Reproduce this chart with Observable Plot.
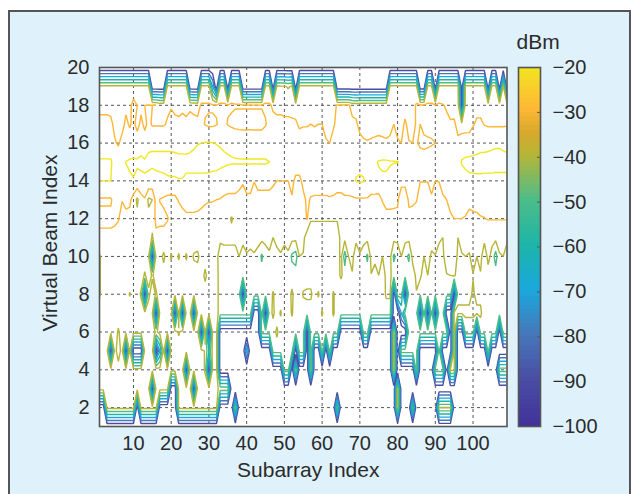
<!DOCTYPE html>
<html><head><meta charset="utf-8">
<script src="https://cdn.jsdelivr.net/npm/d3@7"></script>
<script src="https://cdn.jsdelivr.net/npm/@observablehq/plot@0.6"></script>
<style>
html,body{margin:0;padding:0;background:#fff;width:637px;height:494px;overflow:hidden}
#panel{position:absolute;left:8px;top:10px;width:619px;height:490px;background:#dff2fb;border:2px solid #555;box-sizing:content-box}
#main,#bar{position:absolute;left:0;top:0}
svg{background:transparent!important;font-family:"Liberation Sans",Arial,sans-serif}
</style></head><body>
<div id="panel"></div><div id="main"></div><div id="bar"></div>
<script>
const F=-100;
const row1=[F,F,F,F,F,F,F,F,F,F, F,F,F,F,F,F,F,F,F,F, F,F,F,F,F,F,F,F,F,F, F,F,F,F,F,F,F,F,F,F, F,F,F,F,F,F,F,F,F,F, F,F,F,F,F,F,F,F,F,F, F,F,F,F,F,F,F,F,F,F, F,F,F,F,F,F,F,F,F,F, F,F,F,F,F,F,F,F,F,F, F,F,F,F,F,F,F,F,F,F, F,F,F,F,F,F,F,F,F];
const row2=[F,F,-37,-37,-37,-37,-37,-37,-37,-37, F,-37,-37,-37,-37,-37,F,F,F,F, F,-37,-37,-37,-37,-37,-37,-37,-37,-37, -37,-37,F,F,F,F,-45,F,F,F, F,F,F,F,F,F,F,F,F,F, F,F,F,F,F,F,F,F,F,F, F,F,F,-48,F,F,F,F,F,F, F,F,F,F,F,F,F,F,F,-38, F,F,F,-48,F,F,F,F,F,F, -39.5,-39.5,-39.5,-39.5,F,F,F,F,F,F, F,F,F,F,F,F,F,F,F];
const row3=[-36,-36,-36,-36,-36,-36,-36,-36,-36,-36, -36,-36,-36,-36,F,-36,-36,-36,-36,F, F,-36,-36,-36,-36,F,-36,-36,-36,-36, -36,-36,-45,-45,-45,F,F,F,F,F, F,F,F,F,F,F,F,F,F,F, F,F,F,F,F,F,F,F,F,F, F,F,F,F,F,F,F,F,F,F, F,F,F,F,F,F,F,F,F,-38, F,F,F,F,F,F,F,F,F,F, F,F,F,F,F,F,F,F,F,F, F,F,F,F,F,F,F,F,F];
const row4=[-36,-36,-36,-36,-36,-36,-36,-36,-36,-36, -36,-36,-36,-36,-36,-36,-36,-36,-36,-36, -36,-36,-36,F,-36,-36,-36,-36,-41,F, -36,-36,F,F,F,F,F,F,F,F, F,F,F,F,F,F,F,F,F,-45, -45,F,-45,F,F,F,-45,F,F,F, F,F,F,F,F,F,F,F,F,F, F,F,F,F,F,F,F,F,-38,F, F,F,F,F,-45,F,F,F,F,-45, -45,-45,F,-38,-38,F,F,F,F,F, F,F,F,F,F,F,-45,-45,-45];
const row5=[-36,-36,-36,F,-36,-45,-36,F,-36,F, F,F,-36,-36,-36,F,-70,-36,F,-36, -36,-36,-36,-36,-36,-36,-36,-36,-41,-60, -36,-36,F,F,F,F,F,F,F,-65, F,F,F,F,F,F,-45,-45,-45,-45, -45,-45,F,-45,-45,F,-45,F,F,-45, F,-45,F,F,F,F,F,F,F,F, F,F,F,F,F,F,F,F,-38,F, -45,-45,-45,-45,-45,F,F,F,F,F, -45,F,F,F,-38,F,F,F,F,F, F,F,F,-45,F,F,F,F,F];
const row6=[-36,-36,-36,-36,-36,-41,-36,-36,-36,-36, -36,-36,-36,-36,-36,-42,-36,-36,-36,-36, -36,-41,-36,-36,-36,-36,-36,F,-38,F, -36,-36,F,F,F,F,F,F,F,F, F,F,F,-45,-45,-45,-45,-38,-45,-45, -45,-45,-45,-45,-45,F,-45,-45,-45,-45, -45,-45,-45,-45,F,F,F,F,F,F, -45,-45,F,F,F,F,F,F,-38,F, F,F,-45,-45,-45,-45,-45,-45,-45,-45, -45,-45,-45,F,-38,F,F,-45,-45,-45, F,-45,-45,-45,-45,-45,F,-45,-45];
const row7=[-36,-36,-36,-36,-36,-36,-36,-36,-36,-36, -36,-36,-36,-36,-40,F,-36,-36,-36,-36, F,-36,F,-36,-36,F,-36,-36,-36,-36, -36,-36,-45,-45,-45,-45,-45,-45,-45,-45, -45,F,F,-45,F,-45,-38,-45,-39,-45, -45,-39,-45,-45,-45,-45,-45,-45,-45,-39, -45,-45,-39,-45,-45,-45,-45,-45,-45,-45, -45,-45,-45,-45,-45,-45,-45,-45,F,F, -70,-45,-45,-45,-45,F,-45,F,-45,F, -45,-45,F,F,-38,-38.5,-38.5,-38.5,-38.5,-38.5, -38.5,-38.5,-45,-45,-45,-45,-45,-45,-45];
const row8=[-41,-36,-36,-36,-36,-36,-36,-36,-40.5,-36, -36,-41,F,-42,-36,-41,-36,-36,-36,-36, -36,-36,-36,-36,-36,-36,-36,-36,-36,-36, -36,-36,-45,-45,-45,-45,-45,-45,F,-45, -45,-45,-45,-45,-45,-45,-39,-45,-45,-45, -45,-38,-45,-45,-39,-38,-38,-45,-39,-45, -45,-45,-39,-45,-48,-45,-45,-45,-45,-45, -45,-45,-45,-45,-45,-45,-38.5,-38.5,F,-45, -45,F,-45,-45,-40.5,-48,-45,-45,-45,-45, -45,-45,-45,-45,F,-42,-42,-42,-42,-39, -42,-42,-45,-45,-45,-45,-45,-45,-45];
const row9=[-41,-36,-36,-36,-36,-36,-36,-36,-36,-36, -36,-36,-41,-36,-41,-36,-36,-36,-36,-36, -36,-36,-36,-36,-36,-36,-36,-36,-42,-36, -36,-36,-45,-45,-45,-45,-45,-45,-45,-45, -45,-45,-45,-45,-45,-45,-45,-45,-45,-45, -45,-45,-45,-45,-45,-45,-45,-45,-45,-45, -45,-45,-45,-45,-38,-45,-45,-40.75,-45,-45, -45,-45,-40.3,-44.5,-40,-45,-38,-38,-45,-45, -45,-45,-45,-44.5,-38,-38,-45,-40,-45,-45, -45,-45,-40.3,-40,-38,-45,-45,-45,-45,-40.3, -45,-40.75,-45,-44,-45,-45,-45,-45,-45];
const row10=[-41,-36,-36,-36,-36,-36,-36,-36,-36,-36, -36,-36,-36,-38,F,-36,-36,-42,-36,-41, -36,-41,-36,-41,-36,-41,-42,-36,-36,-36, -36,-36,-47,-44.5,-44.5,-44.5,-44.5,-40,-44.5,-40.75, -42,-40.75,-43,-52,-44.5,-41.3,-41,-43,-40.75,-44.5, -41.3,-52,-55,-40,-40.75,-46,-46,-46,-46,-46, -46,-46,-46,-46,-37,-55,-40,-37,-47,-40.75, -44.5,-52,-37,-37,-37,-40,-37,-37,-52,-47, -40,-47,-52,-37,-37,-37,-40,-37,-41.3,-40.3, -47,-41,-37,-37,-37,-41,-40.75,-40,-40.75,-37, -40,-37,-47,-37,-43,-55,-40.75,-40,-47];
const row11=[-32,-32,-32,-32,-33,-33,-35,-35,-35,-35, -35,-35,-35,-35,-41,-33,-33,-33,-33,-35, -35,-35,-35,-35,-35,-35,-35,-35,-35,-35, -35,-35,-37,-37,-37,-37,-37,-37,-37,-37, -37,-37,-37,-37,-37,-37,-40,-37,-37,-37, -37,-37,-37,-37,-37,-46,-46,-46,-46,-46, -46,-46,-46,-46,-37,-37,-37,-37,-37,-37, -37,-37,-37,-37,-37,-37,-37,-37,-37,-37, -37,-37,-37,-37,-37,-37,-37,-37,-37,-37, -37,-40,-37,-37,-37,-40,-37,-37,-37,-37, -37,-37,-37,-37,-37,-37,-37,-37,-37];
const row12=[-28,-28,-28,-28,-28,-29.5,-33,-32,-33,-36, -37,-36,-36,-37,-37,-27,-28,-28,-29.5,-32, -36,-36,-32.4,-31,-31,-31,-31.3,-32.4,-36,-36, -38,-38,-37,-37,-37,-41,-37,-37,-37,-37, -37,-37,-37,-37,-37,-37,-37,-37,-37,-37, -37,-37,-37,-37,-37,-29,-39,-39,-39,-39, -39,-39,-39,-39,-37,-37,-37,-37,-37,-37, -37,-37,-37,-37,-37,-37,-32,-32,-32.4,-33, -37,-37,-33,-34,-38,-37,-37,-37,-37,-37, -37,-37,-38,-31,-30,-30,-30,-30.5,-32,-31.3, -31,-30.5,-30.2,-29.5,-29.5,-29.5,-29.5,-29.5,-29.5];
const row13=[-31,-31,-31,-31,-27,-27,-29.7,-28,-28,-34, -42,-34,-31,-42,-40,-26,-30.3,-31.5,-33,-33, -33,-29,-28,-28,-28,-28,-28,-28,-28,-29, -29,-30,-30.5,-32,-32,-31,-31,-32,-38,-31, -31,-38,-32,-32,-32,-32,-35,-38,-38,-38, -38,-31,-32,-32,-33,-28,-31,-31.5,-31.5,-31.5, -31.5,-31,-31.5,-33,-33,-31.5,-31.5,-31,-31,-31.2, -31,-31,-32,-33,-34,-29,-28,-28,-28,-28, -38,-38,-28,-28,-29,-38,-38,-38,-32,-38, -38,-32,-30,-28,-27,-27,-27,-27,-28,-28, -28,-27,-27,-27,-27,-27,-27,-27,-27];
const row14=[-20,-20,-20,-20,-25,-25,-25,-22,-21,-20.25, -21.9,-21.2,-20.7,-21.2,-22,-21.2,-20.9,-20.7,-20.4,-20.3, -20.3,-20.4,-20.5,-20.7,-20.7,-20.7,-20.7,-20.7,-20.7,-20.8, -21,-21.2,-21.9,-23,-25.7,-28,-28,-28,-28,-28, -28,-29.5,-28,-28,-28,-28,-28,-30,-30,-30, -30,-27,-33,-33,-27,-25,-25,-25,-25,-25, -25,-25,-25,-25,-25,-25,-25,-25,-19.5,-19, -19.5,-22,-25,-23,-21.5,-21,-21,-22,-24,-25, -26,-26,-25,-25,-25,-29.5,-29.5,-29.5,-25,-30, -29.5,-25,-25,-25,-25,-25,-23,-21.5,-20.8,-20.7, -20.6,-20.6,-20.7,-20.7,-20.7,-20.8,-20.8,-20.8,-20.8];
const row15=[-19,-19,-19,-19,-23,-25,-23,-19.8,-19,-19, -19,-19,-19,-19,-19,-19,-19,-19,-19,-19, -19,-17,-17,-19,-19,-19,-19,-19,-19,-19, -19,-19,-19,-19,-19,-19,-19,-19,-19,-19, -19,-19,-19,-19,-19,-19.9,-23,-23,-23,-23, -23,-23,-23,-23,-23,-23,-23,-23,-23,-23, -23,-23,-23,-23,-23,-23,-23,-23,-22,-22, -22,-23,-23,-21,-19.5,-19,-19,-19.5,-19.7,-19.8, -20.5,-22,-24,-24,-27,-27,-27,-27,-27,-27, -24,-24,-24,-24,-24,-24,-19.5,-19,-19,-19, -19,-19,-19,-19,-19,-19,-19,-19,-19];
const row16=[-25,-25,-25,-25,-29,-31,-27,-26,-26,-24, -25,-22,-26,-21,-20.8,-20.8,-20.8,-20.8,-20.8,-20.8, -21,-24,-24,-21.5,-21,-20.5,-20.1,-20,-19.5,-19.5, -19.8,-20.1,-20.3,-20.8,-21.5,-22.7,-24,-25,-25.5,-25.5, -25,-25.5,-25.5,-25.5,-25.5,-26,-25,-25,-25,-25, -25,-25,-27,-27,-27,-27,-27,-27,-27,-27, -29,-30,-27,-25,-25,-25,-25,-25,-25,-27, -29,-29.5,-29,-28.5,-28,-28.5,-29,-28,-27,-29, -30,-27,-29.5,-30,-29.5,-31,-31.5,-31,-30.5,-30, -27,-26,-26,-26,-26,-28,-24,-23,-22.5,-22, -21.5,-21,-21,-20.8,-20.6,-20.4,-20.4,-20.7,-21];
const row17=[-28,-28,-28,-28,-32,-33,-33,-28,-31,-28, -33,-28,-32,-28,-31,-31,-31,-31,-29,-28, -28,-28,-28,-28,-28,-28,-28,-28,-30.5,-31.5, -31.5,-30.5,-28,-28,-30.5,-31.5,-32,-32,-32,-32, -32,-32,-32,-32,-30.5,-28,-28,-28,-28,-28, -28,-28,-29,-31,-30.5,-30.5,-30,-30.5,-30,-30, -33,-34,-31,-28,-28,-28,-28,-28,-28.5,-33, -33,-33,-33,-33,-33,-33,-33,-33,-30,-33, -33,-28.5,-33,-33,-29,-30,-28,-28,-28.5,-28, -28,-28,-28,-29,-28.5,-33,-36,-36,-36,-31, -28,-28,-30.5,-31.5,-31.5,-31.5,-31.5,-31.5,-31];
const row18=[-32,-32,-32,-33,-33,-34,-33,-32,-33,-26, -30,-32,-30,-30,-30,-30,-33,-33,-32,-30.5, -32,-33,-31.5,-33,-31,-32,-33,-29,-29,-29, -29,-29,-29,-29,-29,-29,-29.5,-29.5,-29.5,-29.5, -29.5,-29.5,-29.5,-29.5,-29,-29,-31,-32,-32,-33, -33,-34,-33,-33,-33,-33,-33,-33,-33,-33, -33,-34,-33,-29,-29,-29,-29,-33,-34,-33, -33,-33,-33,-33,-33,-33,-33,-33,-33,-33, -33,-34,-33,-33,-29,-29,-29,-29,-29,-29, -29,-29.5,-31,-33,-34,-33,F,-33,-33,-33, -34,-34,-33,-33,-33,-33,-33,-33,-33];
const row19=[-38,-38,-38,-38,-38,-38,-38,-38,-38,-38, -38,-38,-38,-38,F,F,F,F,-38,-38, -38,-38,-38,-38,F,F,F,-38,-38,-38, -70,F,-38,-38,F,-38,-38,-38,F,F, F,F,F,F,-38,-38,F,-38,-39,-39, -41,-39,F,-38,-38,-38,-38,-38,-38,-38, -38,-38,-38,F,F,F,F,F,F,F, F,F,F,F,F,F,F,-38,-38,-38, -38,-38,-38,-38,-38,F,F,-38,-38,F, -38,-38,-38,-38,-38,-38,F,-38,-38,-38, -38,-38,-38,F,-38,-38,F,-38,F];
const row20=[F,F,F,F,F,F,F,F,F,F, F,F,F,F,F,F,F,F,F,F, F,F,F,F,F,F,F,F,F,F, F,F,F,F,F,F,F,F,F,F, F,F,F,F,F,F,F,F,F,F, F,F,F,F,F,F,F,F,F,F, F,F,F,F,F,F,F,F,F,F, F,F,F,F,F,F,F,F,F,F, F,F,F,F,F,F,F,F,F,F, F,F,F,F,F,F,F,F,F,F, F,F,F,F,F,F,F,F,F];
const rows=[row1,row2,row3,row4,row5,row6,row7,row8,row9,row10,row11,row12,row13,row14,row15,row16,row17,row18,row19,row20];
const levels=[-90,-80,-70,-60,-50,-40,-30,-20];
const xTicks=[10,20,30,40,50,60,70,80,90,100];
const yTicks=[2,4,6,8,10,12,14,16,18,20];
const barTicks=[-100,-90,-80,-70,-60,-50,-40,-30,-20];
const colorDomain=[-100,-90,-80,-70,-60,-50,-40,-35,-30,-25,-20];
const colorRange=["#41329b","#4a4ea3","#4577ba","#1ba8dc","#1cb5a8","#4dbd88","#b6b537","#d8a92b","#fdb735","#f8cf2a","#f0e81f"];
const ink="#2b2b2b", frameInk="#555";
const grid=rows.flat();
const color={type:"linear",domain:colorDomain,range:colorRange,interpolate:"rgb"};
const main=Plot.plot({
  width:637,height:494,marginLeft:99,marginRight:130.5,marginTop:67,marginBottom:68,
  x:{domain:[1,109]},y:{domain:[1,20]},color,
  style:{background:"transparent",color:ink,fontFamily:"Liberation Sans"},
  marks:[
    Plot.frame({fill:"#fff",stroke:"none"}),
    Plot.gridX(xTicks,{stroke:"#444",strokeOpacity:0.9,strokeDasharray:"3,3"}),
    Plot.gridY(yTicks,{stroke:"#444",strokeOpacity:0.9,strokeDasharray:"3,3"}),
    Plot.contour(grid,{value:d=>d,x1:0.5,x2:109.5,y1:0.5,y2:20.5,width:109,height:20,thresholds:levels,stroke:"value",fill:"none",strokeWidth:1.4,clip:true}),
    Plot.frame({stroke:frameInk,strokeWidth:1.6}),
    Plot.axisX(xTicks,{tickSize:0,tickPadding:9,fontSize:20,label:null,anchor:"bottom"}),
    Plot.axisY(yTicks,{tickSize:0,tickPadding:10,fontSize:20,label:null,anchor:"left"}),
    Plot.text(["Subarray Index"],{frameAnchor:"bottom",dx:5,dy:50,fontSize:21,fill:ink}),
    Plot.text(["Virtual Beam Index"],{frameAnchor:"left",textAnchor:"middle",dx:-49,dy:-4,rotate:-90,fontSize:21,fill:ink})
  ]
});
document.getElementById("main").appendChild(main);
const barLevels=d3.range(-100,-20,1);
const bar=Plot.plot({
  width:637,height:494,marginLeft:518,marginRight:97,marginTop:67,marginBottom:68,
  y:{domain:[-100,-20]},color,
  style:{background:"transparent",color:ink,fontFamily:"Liberation Sans"},
  marks:[
    Plot.barY(barLevels,{y1:d=>d,y2:d=>d+1,fill:d=>d,shapeRendering:"crispEdges"}),
    Plot.frame({stroke:frameInk,strokeWidth:1.6}),
    Plot.axisY(barTicks,{anchor:"right",tickSize:-4,tickPadding:16,fontSize:20,label:null,tickFormat:d=>String(d).replace("-","\u2212"),stroke:frameInk}),
    Plot.text(["dBm"],{frameAnchor:"top-left",dx:-2,dy:-33,fontSize:21,fill:ink})
  ]
});
document.getElementById("bar").appendChild(bar);
</script></body></html>
